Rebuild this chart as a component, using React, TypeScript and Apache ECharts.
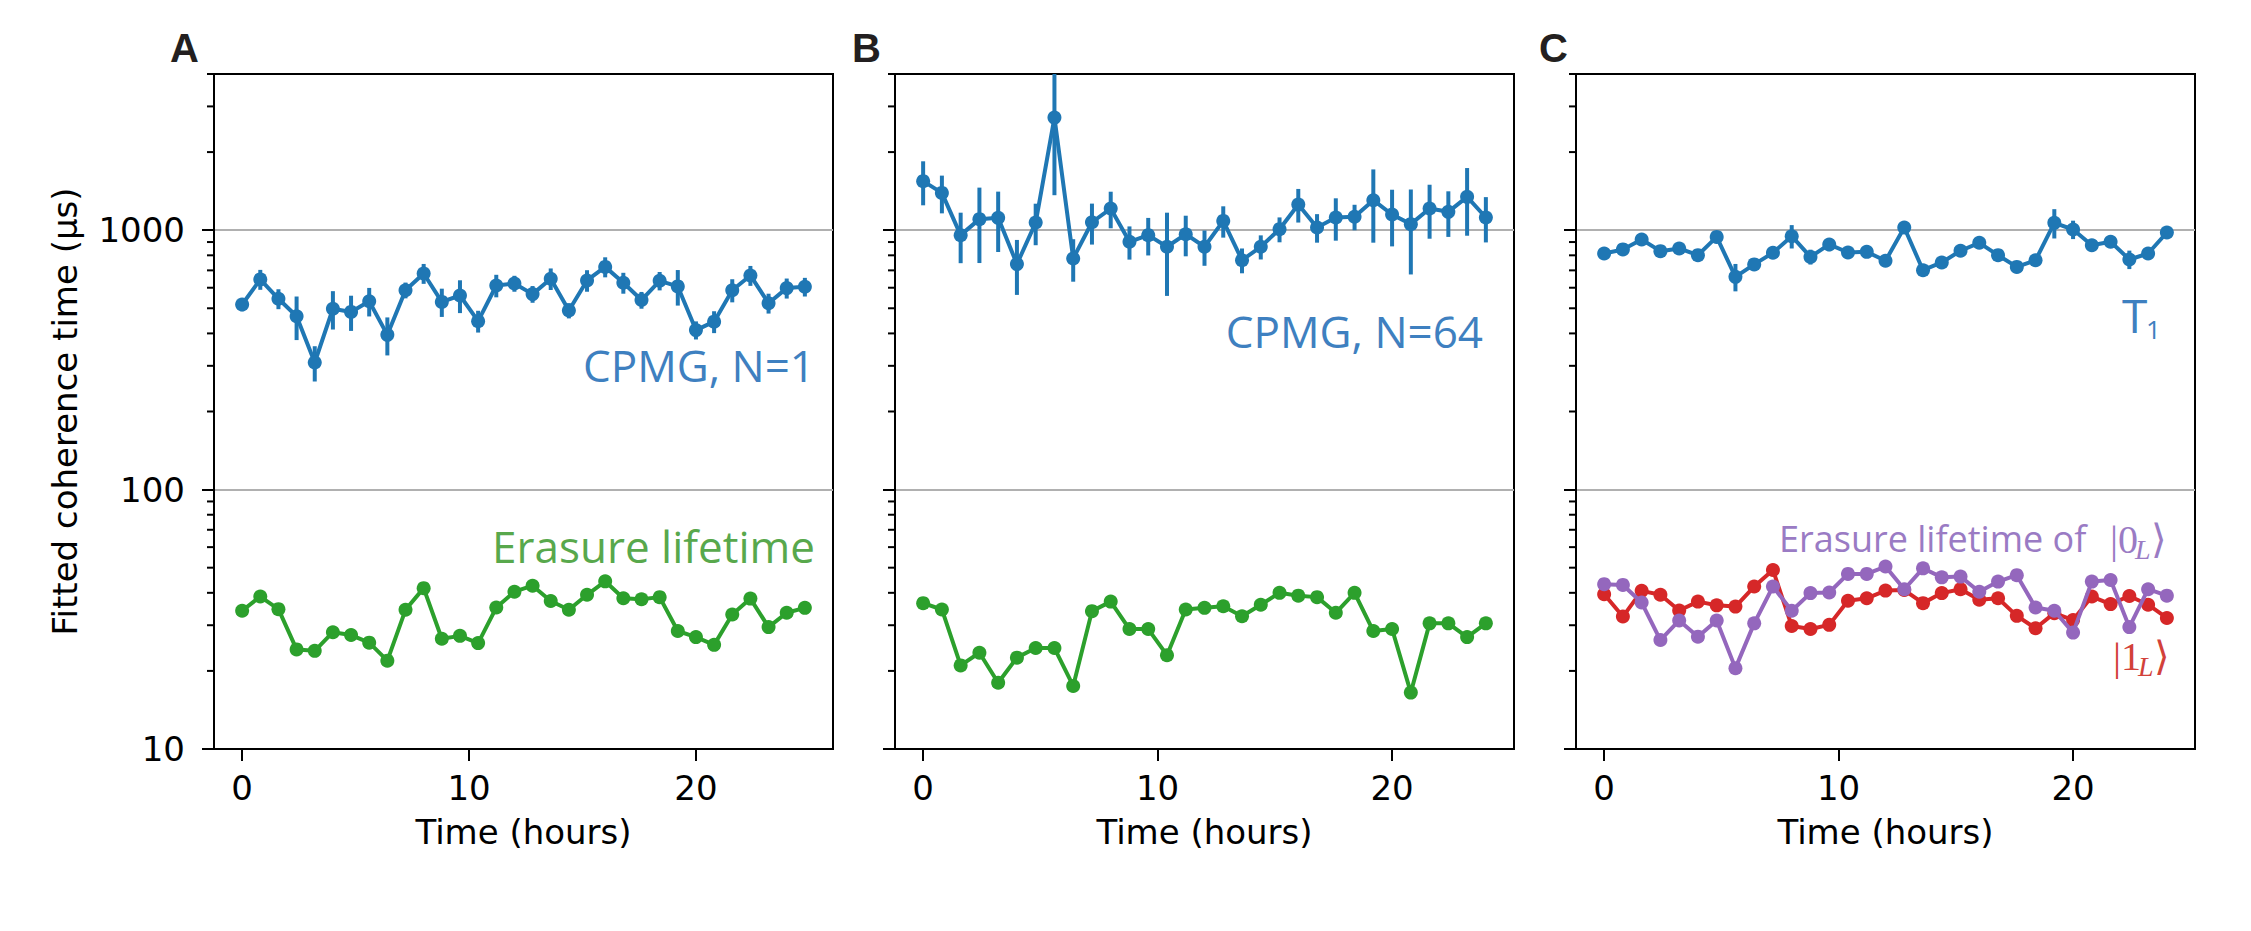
import React, { useEffect, useRef } from "react";
import * as echarts from "echarts";

// ---------- data ----------
const TIME_A = [0, 0.8, 1.6, 2.4, 3.2, 4.0, 4.8, 5.6, 6.4, 7.2, 8.0, 8.8, 9.6, 10.4, 11.2, 12.0, 12.8, 13.6, 14.4, 15.2, 16.0, 16.8, 17.6, 18.4, 19.2, 20.0, 20.8, 21.6, 22.4, 23.2, 24.0, 24.8];
const TIME_BC = [0, 0.8, 1.6, 2.4, 3.2, 4.0, 4.8, 5.6, 6.4, 7.2, 8.0, 8.8, 9.6, 10.4, 11.2, 12.0, 12.8, 13.6, 14.4, 15.2, 16.0, 16.8, 17.6, 18.4, 19.2, 20.0, 20.8, 21.6, 22.4, 23.2, 24.0];

const CPMG_N1 = [517, 646, 544, 466, 309, 498, 484, 532, 395, 587, 681, 529, 560, 446, 612, 623, 567, 650, 490, 640, 722, 627, 538, 638, 607, 412, 444, 587, 669, 523, 598, 605];
const CPMG_N1_ERR = [30, 57, 48, 89, 48, 84, 75, 67, 66, 41, 60, 66, 81, 43, 61, 44, 42, 62, 33, 61, 64, 58, 40, 52, 95, 33, 43, 60, 59, 46, 53, 50];
const ERASURE_A = [34.1, 38.7, 34.6, 24.2, 23.9, 28.2, 27.5, 25.7, 21.9, 34.4, 41.7, 26.6, 27.3, 25.6, 35.1, 40.4, 42.6, 37.2, 34.4, 39.3, 44.3, 38.1, 37.8, 38.5, 28.5, 27.0, 25.2, 33.0, 38.0, 29.5, 33.5, 35.0];

const CPMG_N64 = [1545, 1392, 957, 1103, 1116, 740, 1070, 2717, 778, 1073, 1212, 902, 957, 863, 965, 863, 1086, 766, 863, 1009, 1256, 1024, 1119, 1126, 1305, 1149, 1055, 1212, 1177, 1344, 1119];
const CPMG_N64_ERR = [298, 231, 211, 356, 292, 177, 195, 1353, 145, 193, 195, 132, 158, 305, 172, 134, 150, 84, 92, 111, 186, 129, 208, 127, 410, 283, 380, 285, 235, 392, 222];
const ERASURE_B = [36.5, 34.5, 21, 23.5, 18, 22.5, 24.5, 24.5, 17.5, 34, 37, 29, 29, 23, 34.5, 35, 35.5, 32.5, 36, 40, 39, 38.5, 33.5, 40, 28.5, 29, 16.5, 30.5, 30.5, 27, 30.5];

const T1 = [813, 843, 921, 830, 850, 801, 942, 661, 738, 818, 948, 789, 881, 820, 825, 762, 1024, 701, 751, 833, 894, 801, 722, 766, 1067, 1006, 875, 902, 771, 813, 980];
const T1_ERR = [25, 25, 28, 25, 26, 24, 28, 80, 22, 25, 98, 52, 51, 25, 25, 23, 31, 21, 23, 25, 27, 24, 22, 23, 138, 82, 26, 27, 63, 24, 40];
const ERASURE_0L = [43.2, 42.9, 36.7, 26.3, 31.3, 27.1, 31.3, 20.5, 30.5, 42.3, 34.1, 39.9, 40.1, 47.3, 47.3, 50.5, 41.3, 49.7, 45.9, 46.2, 40.4, 44.2, 46.8, 35.1, 34.1, 28.1, 44.2, 44.8, 29.5, 41.3, 39.0];
const ERASURE_1L = [39.5, 32.4, 40.7, 39.3, 34.2, 37.0, 35.8, 35.4, 42.3, 49.0, 29.8, 29.0, 30.1, 37.3, 38.1, 40.8, 41.0, 36.5, 39.9, 41.3, 37.6, 38.1, 32.6, 29.2, 33.4, 31.4, 38.7, 36.2, 38.9, 36.0, 32.0];

const X_TICKS = [0, 10, 20];
const Y_MAJOR = [10, 100, 1000];
const Y_MINOR = [20, 30, 40, 50, 60, 70, 80, 90, 200, 300, 400, 500, 600, 700, 800, 900, 2000, 3000, 4000];
const Y_MIN = 10;
const Y_MAX = 4000;
const X_RANGE_A = [-1.24, 26.04];
const X_RANGE_BC = [-1.2, 25.2];

const BLUE = "#1f77b4";
const GREEN = "#2ca02c";
const RED = "#d62728";
const PURPLE = "#9467bd";

const GRIDS = [
  { left: 214, top: 74, width: 619, height: 675 },
  { left: 895, top: 74, width: 619, height: 675 },
  { left: 1576, top: 74, width: 619, height: 675 },
];

const AXIS_FONT = "DejaVu Sans";
const ANN_FONT = "Open Sans";
const MATH_FONT = "'Liberation Serif', 'DejaVu Serif', serif";

function xAxisOf(i: number, range: number[]) {
  return {
    type: "value",
    gridIndex: i,
    min: range[0],
    max: range[1],
    axisLine: { show: true, onZero: false, lineStyle: { color: "#000", width: 2 } },
    axisTick: { show: true, length: 12, lineStyle: { color: "#000", width: 2 }, customValues: X_TICKS },
    axisLabel: {
      show: true,
      customValues: X_TICKS,
      fontSize: 34,
      fontFamily: AXIS_FONT,
      color: "#000",
      margin: 22,
      formatter: (v: number) => String(v),
    },
    splitLine: { show: false },
    name: "Time (hours)",
    nameLocation: "middle",
    nameGap: 66,
    nameTextStyle: { fontSize: 34, fontFamily: AXIS_FONT, color: "#000" },
  };
}

function yAxisOf(i: number) {
  return {
    type: "log",
    logBase: 10,
    gridIndex: i,
    min: Y_MIN,
    max: Y_MAX,
    axisLine: { show: true, onZero: false, lineStyle: { color: "#000", width: 2 } },
    axisTick: { show: true, length: 12, lineStyle: { color: "#000", width: 2 }, customValues: Y_MAJOR },
    axisLabel: {
      show: i === 0,
      customValues: Y_MAJOR,
      fontSize: 34,
      fontFamily: AXIS_FONT,
      color: "#000",
      margin: 29,
      formatter: (v: number) => String(Math.round(v)),
    },
    splitLine: { show: true, lineStyle: { color: "#b0b0b0", width: 2 } },
    minorTick: { show: false },
    name: i === 0 ? "Fitted coherence time (µs)" : "",
    nameLocation: "middle",
    nameGap: 132,
    nameRotate: 90,
    nameTextStyle: { fontSize: 34, fontFamily: AXIS_FONT, color: "#000" },
  };
}

function minorTicks(i: number) {
  return {
    type: "custom",
    xAxisIndex: i,
    yAxisIndex: i,
    silent: true,
    z: 5,
    data: Y_MINOR.map((v) => [0, v]),
    encode: { x: 0, y: 1 },
    renderItem: (params: any, api: any) => {
      const p = api.coord([api.value(0), api.value(1)]);
      const x0 = params.coordSys.x;
      return {
        type: "line",
        shape: { x1: x0 - 7, y1: p[1], x2: x0, y2: p[1] },
        style: { stroke: "#000", lineWidth: 2 },
      };
    },
  };
}

function errorBars(i: number, times: number[], vals: number[], errs: number[], color: string) {
  return {
    type: "custom",
    xAxisIndex: i,
    yAxisIndex: i,
    silent: true,
    z: 2,
    data: times.map((t, k) => [t, vals[k] - errs[k], vals[k] + errs[k]]),
    encode: { x: 0, y: [1, 2] },
    renderItem: (_params: any, api: any) => {
      const t = api.value(0);
      const lo = Math.max(api.value(1), Y_MIN);
      const hi = Math.min(api.value(2), Y_MAX);
      const a = api.coord([t, lo]);
      const b = api.coord([t, hi]);
      return {
        type: "line",
        shape: { x1: a[0], y1: a[1], x2: b[0], y2: b[1] },
        style: { stroke: color, lineWidth: 4 },
      };
    },
  };
}

function lineSeries(i: number, times: number[], vals: number[], color: string, z = 3) {
  return {
    type: "line",
    xAxisIndex: i,
    yAxisIndex: i,
    data: times.map((t, k) => [t, vals[k]]),
    symbol: "circle",
    symbolSize: 14,
    showSymbol: true,
    lineStyle: { color, width: 4 },
    itemStyle: { color },
    emphasis: { disabled: true },
    silent: true,
    clip: false,
    z,
  };
}

function txt(text: string, x: number, y: number, o: any) {
  const align = o.align || "left";
  return {
    type: "text",
    x,
    y,
    silent: true,
    z: 10,
    style: {
      text,
      fill: o.color || "#000",
      fontSize: o.size,
      fontFamily: o.family || ANN_FONT,
      fontWeight: o.weight || "normal",
      fontStyle: o.italic ? "italic" : "normal",
      align,
      textAlign: align,
      verticalAlign: "middle",
      textVerticalAlign: "middle",
    },
  };
}

const BLUE_TXT = "#3e80c0";
const GREEN_TXT = "#58a84c";
const PURPLE_TXT = "#9a7bc4";
const RED_TXT = "#d2413a";

export default function App() {
  const ref = useRef<HTMLDivElement>(null);

  useEffect(() => {
    document.body.style.margin = "0";
    if (!ref.current) return;
    const chart = echarts.init(ref.current, undefined, { renderer: "svg" });

    const option: any = {
      animation: false,
      backgroundColor: "#fff",
      textStyle: { fontFamily: AXIS_FONT },
      grid: GRIDS.map((g) => ({ ...g, show: true, borderColor: "#000", borderWidth: 2, backgroundColor: "transparent", containLabel: false })),
      xAxis: [xAxisOf(0, X_RANGE_A), xAxisOf(1, X_RANGE_BC), xAxisOf(2, X_RANGE_BC)],
      yAxis: [yAxisOf(0), yAxisOf(1), yAxisOf(2)],
      series: [
        minorTicks(0),
        minorTicks(1),
        minorTicks(2),
        errorBars(0, TIME_A, CPMG_N1, CPMG_N1_ERR, BLUE),
        lineSeries(0, TIME_A, CPMG_N1, BLUE),
        lineSeries(0, TIME_A, ERASURE_A, GREEN),
        errorBars(1, TIME_BC, CPMG_N64, CPMG_N64_ERR, BLUE),
        lineSeries(1, TIME_BC, CPMG_N64, BLUE),
        lineSeries(1, TIME_BC, ERASURE_B, GREEN),
        errorBars(2, TIME_BC, T1, T1_ERR, BLUE),
        lineSeries(2, TIME_BC, T1, BLUE),
        lineSeries(2, TIME_BC, ERASURE_1L, RED, 3),
        lineSeries(2, TIME_BC, ERASURE_0L, PURPLE, 4),
      ],
      graphic: [
        txt("A", 170, 48, { size: 40, weight: "bold", family: "Liberation Sans", color: "#231f20" }),
        txt("B", 852, 48, { size: 40, weight: "bold", family: "Liberation Sans", color: "#231f20" }),
        txt("C", 1539, 48, { size: 40, weight: "bold", family: "Liberation Sans", color: "#231f20" }),
        txt("CPMG, N=1", 815, 365, { size: 44, color: BLUE_TXT, align: "right" }),
        txt("Erasure lifetime", 815, 546, { size: 44, color: GREEN_TXT, align: "right" }),
        txt("CPMG, N=64", 1483, 331, { size: 44, color: BLUE_TXT, align: "right" }),
        txt("T", 2122, 315, { size: 46, color: BLUE_TXT }),
        txt("1", 2146, 329, { size: 26, color: BLUE_TXT }),
        txt("Erasure lifetime of", 1779, 538, { size: 36, color: PURPLE_TXT }),
        txt("|0", 2110, 539, { size: 40, color: PURPLE_TXT, family: MATH_FONT }),
        txt("L", 2135, 549, { size: 28, color: PURPLE_TXT, family: MATH_FONT, italic: true }),
        txt("⟩", 2151, 539, { size: 40, color: PURPLE_TXT, family: MATH_FONT }),
        txt("|1", 2113, 656, { size: 40, color: RED_TXT, family: MATH_FONT }),
        txt("L", 2138, 666, { size: 28, color: RED_TXT, family: MATH_FONT, italic: true }),
        txt("⟩", 2154, 656, { size: 40, color: RED_TXT, family: MATH_FONT }),
      ],
    };

    chart.setOption(option);
    return () => chart.dispose();
  }, []);

  return <div ref={ref} style={{ width: 2251, height: 931 }} />;
}
